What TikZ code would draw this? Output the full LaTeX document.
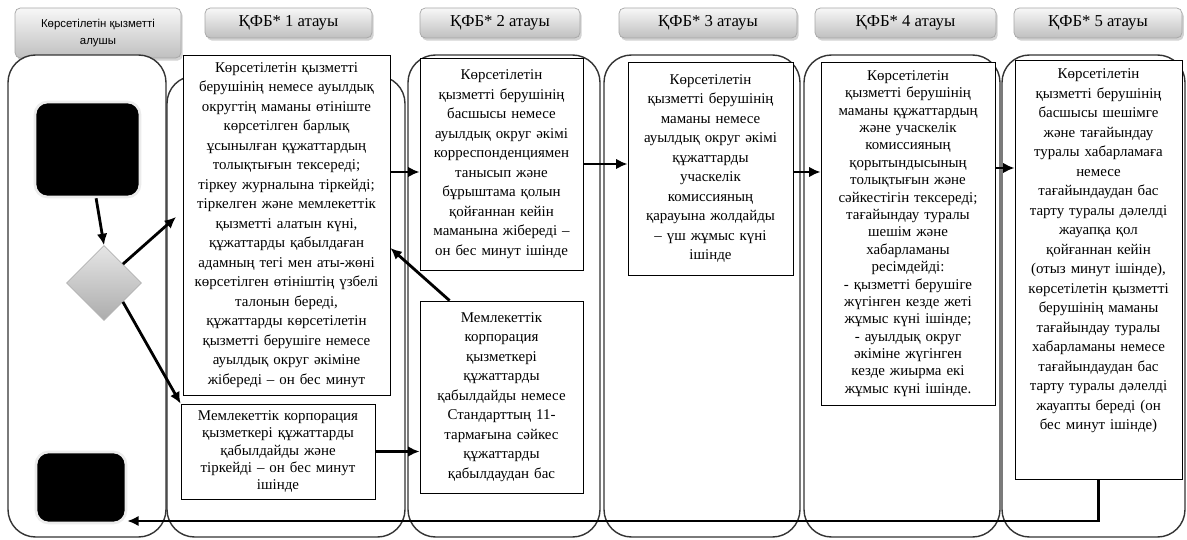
\documentclass[tikz,border=0pt]{standalone}
\usepackage{fontspec}
\setmainfont{Liberation Serif}
\newfontfamily\kopfsans{Liberation Sans}
\usetikzlibrary{arrows.meta,shapes.geometric,shadows}
\tikzset{
  kopf/.style={draw=gray!70, rounded corners=3pt, top color=gray!6, bottom color=gray!50,
    drop shadow={shadow xshift=1pt,shadow yshift=-1.5pt,opacity=.35},
    align=center, inner sep=1pt, font=\fontsize{9.5}{10}\selectfont},
  bahn/.style={draw=black!80, fill=white, line width=0.8pt, rounded corners=0.55cm},
  kasten/.style={draw, fill=white, line width=0.5pt, align=center, inner sep=2pt,
    font=\fontsize{8.5}{11.1}\selectfont},
  block/.style={fill=black, draw=gray!15, line width=1.5pt, rounded corners=0.25cm},
  raute/.style={diamond, aspect=1, minimum size=1.5cm, inner sep=0pt,
    top color=gray!20, bottom color=gray!65, draw=gray!60},
  pfeil/.style={line width=1.6pt, -{Latex[length=6.5pt,width=6pt]}}
}
\begin{document}
\begin{tikzpicture}[x=0.02cm, y=-0.02cm]
            \useasboundingbox (0,0) rectangle (1187,540);
            % Kopfzeilen
            \node [kopf, minimum width=3.32cm, minimum height=1cm,
                   font=\kopfsans\fontsize{6.5}{9.4}\selectfont] (h0) at (98,33) {Көрсетілетін қызметті\\алушы};
            \node [kopf, minimum width=3.34cm, minimum height=0.6cm] (h1) at (288.5,23) {ҚФБ* 1 атауы};
            \node [kopf, minimum width=3.2cm,  minimum height=0.6cm] (h2) at (500,23)   {ҚФБ* 2 атауы};
            \node [kopf, minimum width=3.56cm, minimum height=0.6cm] (h3) at (708,23)   {ҚФБ* 3 атауы};
            \node [kopf, minimum width=3.62cm, minimum height=0.6cm] (h4) at (905.5,23) {ҚФБ* 4 атауы};
            \node [kopf, minimum width=3.36cm, minimum height=0.6cm] (h5) at (1098,23)  {ҚФБ* 5 атауы};
            % Spalten
            \draw [bahn] (8,55)    rectangle (166,537);
            \draw [bahn] (167,76)  rectangle (405,537);
            \draw [bahn] (408,55)  rectangle (600,537);
            \draw [bahn] (604,55)  rectangle (800,537);
            \draw [bahn] (804,55)  rectangle (1000,537);
            \draw [bahn] (1002,55) rectangle (1185,537);
            % Anfang und Ende
            \node [block, minimum width=2.1cm, minimum height=1.9cm]  (sq1) at (87.5,149.5) {};
            \node [block, minimum width=1.8cm, minimum height=1.42cm] (sq2) at (81,487.5)   {};
            \node [raute] (dia) at (104,283) {};
            % Kästen
            \node [kasten, minimum width=4.14cm, minimum height=6.8cm, text width=3.95cm] (b1) at (286.5,225)
              {Көрсетілетін қызметті\\берушінің немесе ауылдық\\округтің маманы өтініште\\көрсетілген барлық\\ұсынылған құжаттардың\\толықтығын тексереді;\\тіркеу журналына тіркейді;\\тіркелген және мемлекеттік\\қызметті алатын күні,\\құжаттарды қабылдаған\\адамның тегі мен аты-жөні\\көрсетілген өтініштің үзбелі\\талонын береді,\\құжаттарды көрсетілетін\\қызметті берушіге немесе\\ауылдық округ әкіміне\\жібереді  – он бес минут};
            \node [kasten, minimum width=3.88cm, minimum height=1.9cm, text width=3.7cm,
                   font=\fontsize{8.5}{9.7}\selectfont] (b1b) at (278,451.5)
              {Мемлекеттік  корпорация\\қызметкері  құжаттарды\\қабылдайды және\\тіркейді – он бес минут\\ішінде};
            \node [kasten, minimum width=3.26cm, minimum height=4.24cm, text width=3.1cm] (b2) at (501.5,164)
              {Көрсетілетін\\қызметті берушінің\\басшысы немесе\\ауылдық округ әкімі\\корреспонденциямен\\танысып және\\бұрыштама қолын\\қойғаннан кейін\\маманына жібереді  –\\он бес минут ішінде};
            \node [kasten, minimum width=3.26cm, minimum height=3.84cm, text width=3.1cm] (b2b) at (501.5,397)
              {Мемлекеттік\\корпорация\\қызметкері\\құжаттарды\\қабылдайды немесе\\Стандарттың 11-\\тармағына сәйкес\\құжаттарды\\қабылдаудан бас};
            \node [kasten, minimum width=3.3cm, minimum height=4.26cm, text width=3.15cm] (b3) at (710.5,168.5)
              {Көрсетілетін\\қызметті берушінің\\маманы немесе\\ауылдық округ әкімі\\құжаттарды\\учаскелік\\комиссияның\\қарауына жолдайды\\– үш жұмыс күні\\ішінде};
            \node [kasten, minimum width=3.48cm, minimum height=6.86cm, text width=3.3cm,
                   font=\fontsize{8.5}{9.9}\selectfont] (b4) at (908,233.5)
              {Көрсетілетін\\қызметті берушінің\\маманы құжаттардың\\және учаскелік\\комиссияның\\қорытындысының\\толықтығын  және\\сәйкестігін тексереді;\\тағайындау туралы\\шешім және\\хабарламаны\\ресімдейді:\\- қызметті берушіге\\жүгінген кезде жеті\\жұмыс күні ішінде;\\- ауылдық округ\\әкіміне жүгінген\\кезде жиырма екі\\жұмыс күні ішінде.};
            \node [kasten, minimum width=3.34cm, minimum height=8.38cm, text width=3.2cm] (b5) at (1098.5,269.5)
              {Көрсетілетін\\қызметті берушінің\\басшысы шешімге\\және тағайындау\\туралы хабарламаға\\немесе\\тағайындаудан бас\\тарту туралы дәлелді\\жауапқа қол\\қойғаннан кейін\\(отыз минут ішінде),\\көрсетілетін қызметті\\берушінің маманы\\тағайындау туралы\\хабарламаны немесе\\тағайындаудан бас\\тарту туралы дәлелді\\жауапты береді  (он\\бес минут ішінде)\\\rule{0pt}{20pt}};
            % Pfeile
            \coordinate (ein1) at (176,217);
            \draw [pfeil] (sq1.-80) -- (dia.north);
            \draw [pfeil] (dia.north east) -- (ein1);
            \draw [pfeil] (dia.south east) -- (b1b.north west);
            \draw [pfeil] (b1.east |- 0,172) -- (b2.west |- 0,172);
            \draw [pfeil] (b1b.east) -- (b2b.west |- b1b.east);
            \draw [pfeil] ([xshift=0.6cm]b2b.north west) -- (b1.east |- 0,248);
            \draw [pfeil] (b2.east) -- (b3.west |- b2.east);
            \draw [pfeil] (b3.east |- 0,172) -- (b4.west |- 0,172);
            \draw [pfeil] (b4.east |- 0,168) -- (b5.west |- 0,168);
            \draw [pfeil] (b5.south) |- (sq2.east |- 0,521);
        \end{tikzpicture}
\end{document}
